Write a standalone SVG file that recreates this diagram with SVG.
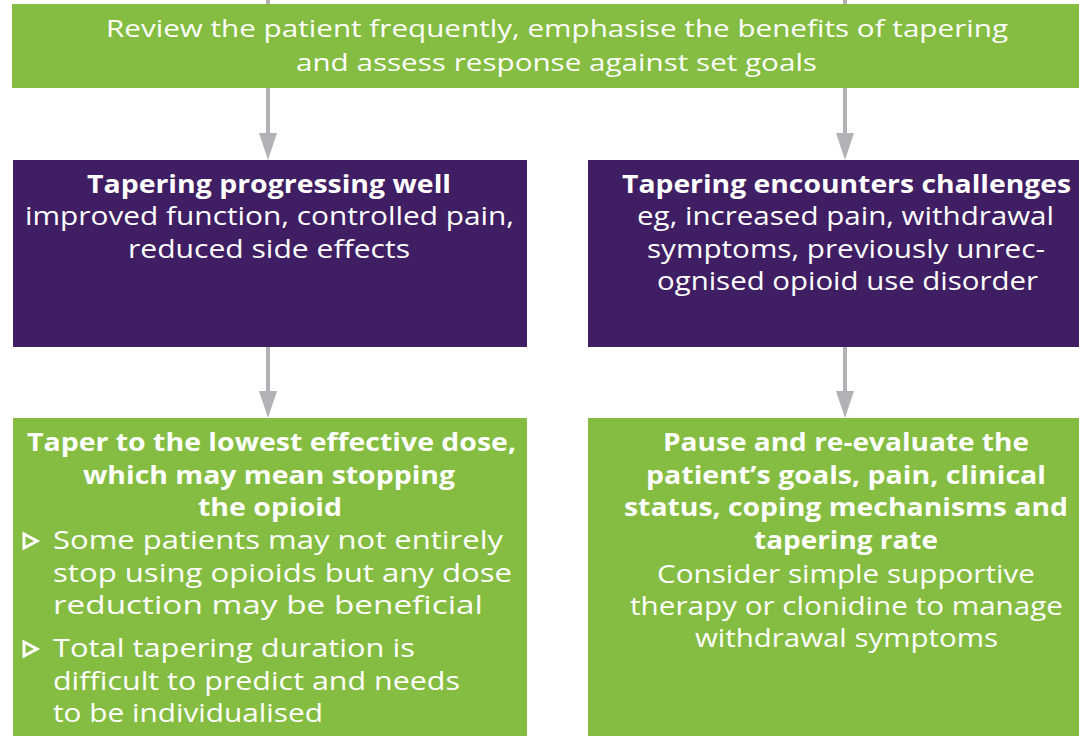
<svg xmlns="http://www.w3.org/2000/svg" width="1079" height="736" viewBox="0 0 1079 736">
  <style>
    .green { fill: #84BD41; }
    .purple { fill: #3F1E63; }
    text { font-family: "Open Sans", "Noto Sans", "Liberation Sans", sans-serif; fill: #FFFFFF; }
    .top { font-size: 24px; font-weight: 400; }
    .b { font-size: 25px; font-weight: 700; }
    .r { font-size: 25px; font-weight: 400; }
    .conn { stroke: #B2B2B6; stroke-width: 4; fill: none; }
    .bullet { fill: none; stroke: #FFFFFF; stroke-width: 3; stroke-linejoin: miter; }
  </style>
  <defs>
    <marker id="arrow" viewBox="0 0 27 18" refX="7" refY="9" markerWidth="27" markerHeight="18" markerUnits="userSpaceOnUse" orient="auto">
      <path d="M0,0 L27,9 L0,18 Z" fill="#B2B2B6"/>
    </marker>
  </defs>
  <rect width="1079" height="736" fill="#FFFFFF"/>

  <g id="connectors">
    <line class="conn" x1="268" y1="0" x2="268" y2="5"/>
    <line class="conn" x1="845" y1="0" x2="845" y2="5"/>
    <line class="conn" x1="268" y1="88" x2="268" y2="140" marker-end="url(#arrow)"/>
    <line class="conn" x1="845" y1="88" x2="845" y2="140" marker-end="url(#arrow)"/>
    <line class="conn" x1="268" y1="346" x2="268" y2="398" marker-end="url(#arrow)"/>
    <line class="conn" x1="845" y1="346" x2="845" y2="398" marker-end="url(#arrow)"/>
  </g>

  <g id="review">
    <rect class="green" x="12" y="4" width="1067" height="84"/>
    <text class="top" x="106" y="37" textLength="902" lengthAdjust="spacingAndGlyphs">Review the patient frequently, emphasise the benefits of tapering</text>
    <text class="top" x="296" y="71" textLength="521" lengthAdjust="spacingAndGlyphs">and assess response against set goals</text>
  </g>

  <g id="progressing-well">
    <rect class="purple" x="13" y="160" width="514" height="187"/>
    <text class="b" x="87" y="193" textLength="364" lengthAdjust="spacingAndGlyphs">Tapering progressing well</text>
    <text class="r" x="25" y="225" textLength="489" lengthAdjust="spacingAndGlyphs">improved function, controlled pain,</text>
    <text class="r" x="128" y="258" textLength="282" lengthAdjust="spacingAndGlyphs">reduced side effects</text>
  </g>

  <g id="encounters-challenges">
    <rect class="purple" x="588" y="160" width="491" height="187"/>
    <text class="b" x="622" y="193" textLength="449" lengthAdjust="spacingAndGlyphs">Tapering encounters challenges</text>
    <text class="r" x="637" y="225" textLength="417" lengthAdjust="spacingAndGlyphs">eg, increased pain, withdrawal</text>
    <text class="r" x="647" y="258" textLength="398" lengthAdjust="spacingAndGlyphs">symptoms, previously unrec-</text>
    <text class="r" x="657" y="290" textLength="381" lengthAdjust="spacingAndGlyphs">ognised opioid use disorder</text>
  </g>

  <g id="taper-lowest">
    <rect class="green" x="13" y="418" width="514" height="318"/>
    <text class="b" x="27" y="451" textLength="489" lengthAdjust="spacingAndGlyphs">Taper to the lowest effective dose,</text>
    <text class="b" x="83" y="484" textLength="372" lengthAdjust="spacingAndGlyphs">which may mean stopping</text>
    <text class="b" x="198" y="516" textLength="144" lengthAdjust="spacingAndGlyphs">the opioid</text>
    <path class="bullet" d="M24,534 L37,541 L24,548 Z"/>
    <text class="r" x="53" y="549" textLength="450" lengthAdjust="spacingAndGlyphs">Some patients may not entirely</text>
    <text class="r" x="53" y="582" textLength="459" lengthAdjust="spacingAndGlyphs">stop using opioids but any dose</text>
    <text class="r" x="53" y="614" textLength="430" lengthAdjust="spacingAndGlyphs">reduction may be beneficial</text>
    <path class="bullet" d="M24,642 L37,649 L24,656 Z"/>
    <text class="r" x="53" y="657" textLength="362" lengthAdjust="spacingAndGlyphs">Total tapering duration is</text>
    <text class="r" x="53" y="690" textLength="407" lengthAdjust="spacingAndGlyphs">difficult to predict and needs</text>
    <text class="r" x="53" y="722" textLength="270" lengthAdjust="spacingAndGlyphs">to be individualised</text>
  </g>

  <g id="pause-reevaluate">
    <rect class="green" x="588" y="418" width="491" height="318"/>
    <text class="b" x="663" y="451" textLength="366" lengthAdjust="spacingAndGlyphs">Pause and re-evaluate the</text>
    <text class="b" x="646" y="484" textLength="400" lengthAdjust="spacingAndGlyphs">patient’s goals, pain, clinical</text>
    <text class="b" x="624" y="516" textLength="444" lengthAdjust="spacingAndGlyphs">status, coping mechanisms and</text>
    <text class="b" x="754" y="549" textLength="184" lengthAdjust="spacingAndGlyphs">tapering rate</text>
    <text class="r" x="657" y="583" textLength="378" lengthAdjust="spacingAndGlyphs">Consider simple supportive</text>
    <text class="r" x="630" y="615" textLength="433" lengthAdjust="spacingAndGlyphs">therapy or clonidine to manage</text>
    <text class="r" x="695" y="647" textLength="303" lengthAdjust="spacingAndGlyphs">withdrawal symptoms</text>
  </g>
</svg>
